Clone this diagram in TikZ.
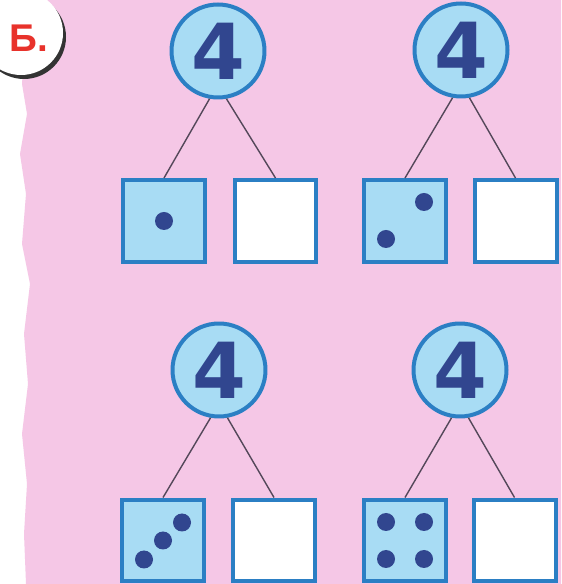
\documentclass[tikz,border=0pt]{standalone}
\usepackage{fontspec}
\setmainfont{Liberation Sans}
\newfontfamily\digitfont{DejaVu Sans}
\usepackage{tikz}
\usetikzlibrary{positioning,calc}
\definecolor{pinkbg}{HTML}{F5C7E6}
\definecolor{rimblue}{HTML}{2B7FC4}
\definecolor{paleblue}{HTML}{A8DCF4}
\definecolor{navy}{HTML}{31468F}
\definecolor{stem}{HTML}{54485A}
\definecolor{letterred}{HTML}{E8322B}
\tikzset{
  wholenum/.style={circle, draw=rimblue, line width=0.08cm, fill=paleblue,
    minimum size=1.86cm, inner sep=0pt, text=navy,
    font=\digitfont\fontsize{44}{44}\selectfont\bfseries},
  partbox/.style={rectangle, draw=rimblue, line width=0.08cm, fill=paleblue,
    minimum size=1.64cm, inner sep=0pt},
  emptybox/.style={partbox, fill=white},
  stemline/.style={draw=stem, line width=0.8pt},
  pip/.style={fill=navy}
}

\begin{document}
\begin{tikzpicture}[x=0.02cm, y=0.02cm]
    \useasboundingbox (0,0) rectangle (561,584);
    % background
    \fill[white] (0,0) rectangle (561,584);
    \fill[pinkbg] (28,584) -- (22,500) -- (27,470) -- (20,430) -- (26,390) -- (22,340)
      -- (30,300) -- (24,250) -- (28,200) -- (22,150) -- (27,100) -- (24,50) -- (26,0)
      -- (561,0) -- (561,584) -- cycle;
    % task letter
    \fill[black!80] (24,547) circle (42);
    \fill[white] (21,551) circle (42);
    \node[text=letterred, font=\fontsize{22}{22}\selectfont\bfseries] (task) at (29,546) {Б.};
    % whole numbers
    \node[wholenum] (c1) at (218,533) {4};
    \node[wholenum] (c2) at (461,534) {4};
    \node[wholenum] (c3) at (219,214) {4};
    \node[wholenum] (c4) at (460,214) {4};
    % parts
    \node[partbox] (b1) at (164,363) {};
    \node[emptybox] (b2) at (275.5,363) {};
    \node[partbox] (b3) at (405,363) {};
    \node[emptybox] (b4) at (515.5,363) {};
    \node[partbox] (b5) at (163,43.5) {};
    \node[emptybox] (b6) at (274,43.5) {};
    \node[partbox] (b7) at (405,43.5) {};
    \node[emptybox] (b8) at (514.5,43.5) {};
    % stems
    \draw[stemline] (c1.-100) -- (b1.north);
    \draw[stemline] (c1.-80) -- (b2.north);
    \draw[stemline] (c2.-100) -- (b3.north);
    \draw[stemline] (c2.-80) -- (b4.north);
    \draw[stemline] (c3.-100) -- (b5.north);
    \draw[stemline] (c3.-80) -- (b6.north);
    \draw[stemline] (c4.-100) -- (b7.north);
    \draw[stemline] (c4.-80) -- (b8.north);
    % pips
    \fill[pip] (b1.center) circle (9);
    \fill[pip] ($(b3.center)+(19,19)$) circle (9);
    \fill[pip] ($(b3.center)+(-19,-18)$) circle (9);
    \fill[pip] ($(b5.center)+(19,18)$) circle (9);
    \fill[pip] (b5.center) circle (9);
    \fill[pip] ($(b5.center)+(-19,-19)$) circle (9);
    \fill[pip] ($(b7.center)+(-19,18.5)$) circle (9);
    \fill[pip] ($(b7.center)+(19,18.5)$) circle (9);
    \fill[pip] ($(b7.center)+(-19,-18.5)$) circle (9);
    \fill[pip] ($(b7.center)+(19,-18.5)$) circle (9);
  \end{tikzpicture}
\end{document}
